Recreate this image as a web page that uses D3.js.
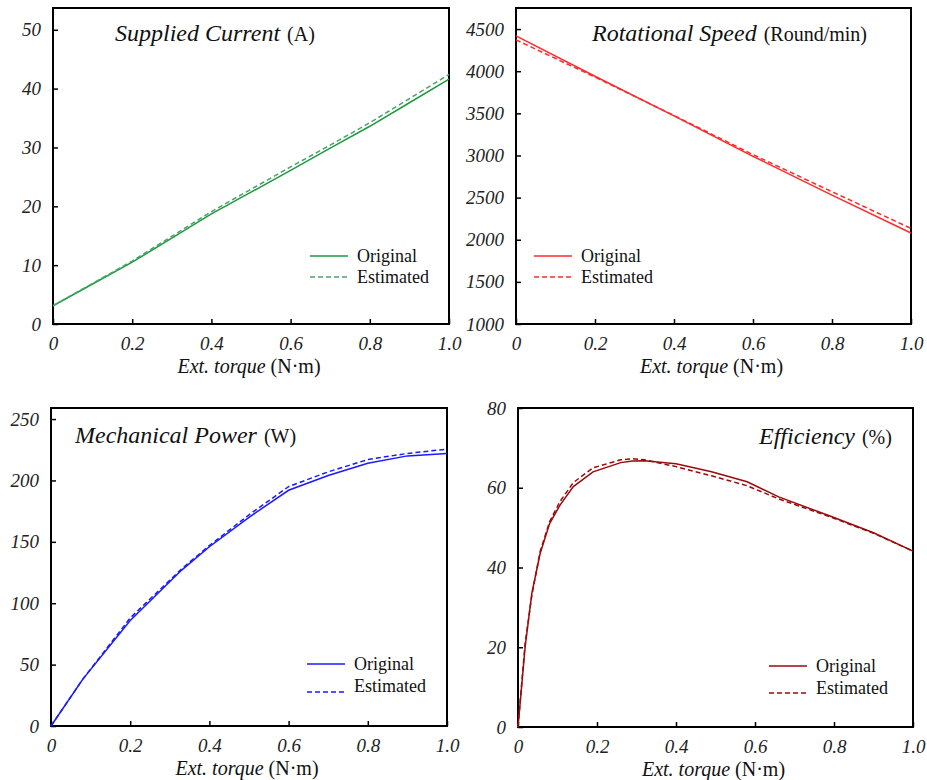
<!DOCTYPE html>
<html>
<head>
<meta charset="utf-8">
<title>Motor characteristics</title>
<script src="https://d3js.org/d3.v7.min.js"></script>
<style>
  body { margin: 0; background: #fff; }
</style>
</head>
<body>
<div id="chart"></div>
<script>
// x tick values shared by all panels
const torqueTicks = [0, 0.2, 0.4, 0.6, 0.8, 1.0];

// supplied current (A)
const currentX = [0, 0.1, 0.2, 0.3, 0.4, 0.5, 0.6, 0.7, 0.8, 0.9, 1.0];
const currentOrig = [3.1, 6.8, 10.5, 14.6, 18.7, 22.4, 26.1, 29.9, 33.6, 37.6, 41.6];
const currentEst = [3.1, 6.9, 10.7, 14.9, 19.1, 22.9, 26.7, 30.4, 34.2, 38.3, 42.4];
const currentTicks = [0, 10, 20, 30, 40, 50];

// rotational speed (round/min)
const speedX = [0, 0.2, 0.4, 0.6, 0.8, 1.0];
const speedOrig = [4420, 3940, 3470, 2990, 2530, 2080];
const speedEst = [4372, 3930, 3475, 3010, 2570, 2135];
const speedTicks = [1000, 1500, 2000, 2500, 3000, 3500, 4000, 4500];

// mechanical power (W)
const powerX = [0, 0.08, 0.2, 0.33, 0.4, 0.5, 0.6, 0.7, 0.8, 0.9, 1.0];
const powerOrig = [0, 38, 86, 127, 146, 170, 192, 204, 214, 220, 222];
const powerEst = [0, 38, 88, 128, 147, 172, 195, 207, 217, 222, 225.5];
const powerTicks = [0, 50, 100, 150, 200, 250];

// efficiency (%)
const effX = [0, 0.018, 0.035, 0.056, 0.08, 0.106, 0.14, 0.19, 0.26, 0.29, 0.32, 0.40, 0.49, 0.58, 0.66, 0.79, 0.9, 1.0];
const effOrig = [0, 20, 33.5, 43.5, 51, 55.6, 60.3, 64, 66.3, 66.7, 66.8, 66, 64, 61.5, 57.7, 52.9, 48.7, 44.1];
const effEst = [0, 21, 33, 44, 51.5, 56.5, 61.3, 65, 67, 67.3, 67, 65.3, 63, 60.5, 57.2, 52.7, 48.6, 44.1];
const effTicks = [0, 20, 40, 60, 80];

const serif = "'Liberation Serif'";
const svg = d3.select("#chart").append("svg").attr("width", 927).attr("height", 780);

function panel(o) {
    const x = d3.scaleLinear().domain([0, 1]).range([o.left, o.right]);
    const y = d3.scaleLinear().domain(o.yDomain).range([o.bottom, o.top]);
    const g = svg.append("g");

    // frame
    g.append("rect").attr("x", o.left).attr("y", o.top)
        .attr("width", o.right - o.left).attr("height", o.bottom - o.top)
        .attr("fill", "none").attr("stroke", "#000").attr("stroke-width", 2);

    // axes, ticks pointing inward
    const ax = g.append("g").attr("transform", `translate(0,${o.bottom})`)
        .call(d3.axisBottom(x).tickValues(torqueTicks).tickSizeInner(-5).tickSizeOuter(0).tickPadding(13)
            .tickFormat(d => d === 0 ? "0" : d3.format(".1f")(d)));
    const ay = g.append("g").attr("transform", `translate(${o.left},0)`)
        .call(d3.axisLeft(y).tickValues(o.yTicks).tickSizeInner(-5).tickSizeOuter(0).tickPadding(12)
            .tickFormat(d3.format("d")));
    [ax, ay].forEach(a => {
        a.attr("font-family", null).attr("font-size", null);
        a.select(".domain").remove();
        a.selectAll(".tick line").attr("stroke", "#000").attr("stroke-width", 1.5);
        a.selectAll(".tick text").style("font-family", serif).style("font-style", "italic")
            .style("font-size", "19px").attr("fill", "#222");
    });

    // curves
    const line = d3.line().x(d => x(d[0])).y(d => y(d[1]));
    const orig = o.xs.map((v, i) => [v, o.orig[i]]);
    const est = o.xs.map((v, i) => [v, o.est[i]]);
    g.append("path").datum(orig).attr("d", line).attr("fill", "none")
        .attr("stroke", o.color).attr("stroke-width", 1.5);
    g.append("path").datum(est).attr("d", line).attr("fill", "none")
        .attr("stroke", o.color2).attr("stroke-width", 1.5).attr("stroke-dasharray", "5,3");

    // title
    const t = g.append("text").attr("x", o.titleX).attr("y", o.titleY)
        .style("font-family", serif).attr("fill", "#111");
    t.append("tspan").style("font-style", "italic").style("font-size", "24px").text(o.title);
    t.append("tspan").style("font-size", "20px").attr("dx", 7).text(o.unit);

    // x label
    const xl = g.append("text").attr("x", (o.left + o.right) / 2 - 2).attr("y", o.bottom + 49)
        .attr("text-anchor", "middle").style("font-size", "20px").style("font-family", serif).attr("fill", "#111");
    xl.append("tspan").style("font-style", "italic").text("Ext. torque");
    xl.append("tspan").text(" (N\u00b7m)");

    // legend
    const lg = o.legend;
    [["Original", null, lg.y1, lg.t1], ["Estimated", "5,3", lg.y2, lg.t2]].forEach(([name, dash, ly, ty]) => {
        g.append("line").attr("x1", lg.x).attr("x2", lg.x + 38).attr("y1", ly).attr("y2", ly)
            .attr("stroke", dash ? o.color2 : o.color).attr("stroke-width", 1.5)
            .attr("stroke-dasharray", dash);
        g.append("text").attr("x", lg.x + 47).attr("y", ty + 6).style("font-size", "18px")
            .style("font-family", serif).attr("fill", "#111").text(name);
    });
}

panel({
    left: 53, right: 449, top: 8, bottom: 324, yDomain: [0, 53.7], yTicks: currentTicks,
    xs: currentX, orig: currentOrig, est: currentEst, color: "#1e9a3c", color2: "#48a46c",
    title: "Supplied Current", unit: "(A)", titleX: 115, titleY: 41,
    legend: {x: 310, y1: 256, t1: 256, y2: 277, t2: 277}
});
panel({
    left: 516, right: 911, top: 8, bottom: 324, yDomain: [1000, 4750], yTicks: speedTicks,
    xs: speedX, orig: speedOrig, est: speedEst, color: "#ff2a2a", color2: "#ff2a2a",
    title: "Rotational Speed", unit: "(Round/min)", titleX: 592, titleY: 41,
    legend: {x: 534, y1: 256, t1: 256, y2: 277, t2: 277}
});
panel({
    left: 51, right: 447, top: 408, bottom: 726, yDomain: [0, 259], yTicks: powerTicks,
    xs: powerX, orig: powerOrig, est: powerEst, color: "#1a1aff", color2: "#1a1aff",
    title: "Mechanical Power", unit: "(W)", titleX: 75, titleY: 443,
    legend: {x: 307, y1: 664, t1: 664, y2: 692, t2: 686}
});
panel({
    left: 518, right: 913, top: 408, bottom: 727, yDomain: [0, 80], yTicks: effTicks,
    xs: effX, orig: effOrig, est: effEst, color: "#9b0a0a", color2: "#9b0a0a",
    title: "Efficiency", unit: "(%)", titleX: 759, titleY: 444,
    legend: {x: 769, y1: 666, t1: 666, y2: 693, t2: 688}
});
</script>
</body>
</html>
